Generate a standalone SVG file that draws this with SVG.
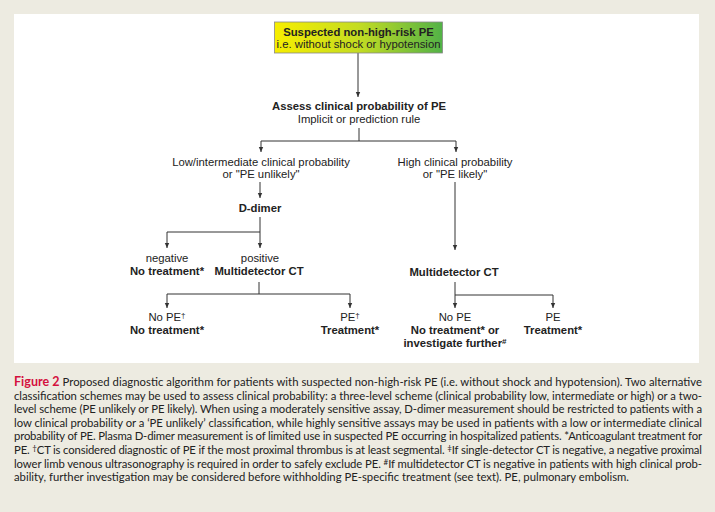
<svg xmlns="http://www.w3.org/2000/svg" width="715" height="512" viewBox="0 0 715 512">
<defs>
<linearGradient id="g" x1="0" y1="0" x2="1" y2="0">
<stop offset="0" stop-color="#f7ee00"/>
<stop offset="0.5" stop-color="#c4dc22"/>
<stop offset="1" stop-color="#52b247"/>
</linearGradient>
<marker id="a" markerWidth="6" markerHeight="6" refX="5" refY="3" orient="auto" markerUnits="userSpaceOnUse">
<path d="M0,0.8 L5,3 L0,5.2 Z" fill="#333"/>
</marker>
<style>
.t{font-family:"Liberation Sans",Arial,sans-serif;font-size:11.3px;fill:#222;text-anchor:middle}
.b{font-weight:bold}
.sup{font-size:8px}
.c{stroke:#333;stroke-width:1;fill:none}
.cap{font-family:Lato,"Open Sans",sans-serif;font-size:11.3px;fill:#222}
.fig{fill:#d4113e;font-weight:bold;font-size:12.5px}
</style>
</defs>
<rect x="0" y="0" width="715" height="512" fill="#edebe1"/>
<rect x="14" y="14" width="685" height="349" fill="#ffffff"/>

<g id="connectors">
<path class="c" d="M358,53 V97" marker-end="url(#a)"/>
<path class="c" d="M359,128 V141 M261,141 H456"/>
<path class="c" d="M261,141 V152" marker-end="url(#a)"/>
<path class="c" d="M456,141 V152" marker-end="url(#a)"/>
<path class="c" d="M260,182 V198" marker-end="url(#a)"/>
<path class="c" d="M260,217 V248" marker-end="url(#a)"/>
<path class="c" d="M167,232 H260"/>
<path class="c" d="M167,232 V248" marker-end="url(#a)"/>
<path class="c" d="M259,282 V294 M167,294 H350"/>
<path class="c" d="M167,294 V308" marker-end="url(#a)"/>
<path class="c" d="M350,294 V308" marker-end="url(#a)"/>
<path class="c" d="M455,182 V250" marker-end="url(#a)"/>
<path class="c" d="M455,282 V308" marker-end="url(#a)"/>
<path class="c" d="M455,295 H553"/>
<path class="c" d="M553,295 V308" marker-end="url(#a)"/>
</g>

<g id="start">
<rect x="274.5" y="22" width="168" height="31" fill="url(#g)" stroke="#888" stroke-width="0.8"/>
<text class="t b" x="358.5" y="35.5">Suspected non-high-risk PE</text>
<text class="t" x="358.5" y="48">i.e. without shock or hypotension</text>
</g>

<g id="assess">
<text class="t b" x="359" y="110">Assess clinical probability of PE</text>
<text class="t" x="359" y="123">Implicit or prediction rule</text>
</g>

<g id="low">
<text class="t" x="261" y="166">Low/intermediate clinical probability</text>
<text class="t" x="261" y="178">or "PE unlikely"</text>
</g>

<g id="high">
<text class="t" x="455" y="166">High clinical probability</text>
<text class="t" x="455" y="178">or "PE likely"</text>
</g>

<g id="ddimer">
<text class="t b" x="260" y="212">D-dimer</text>
</g>

<g id="negative">
<text class="t" x="167" y="262">negative</text>
<text class="t b" x="167" y="275">No treatment*</text>
</g>

<g id="positive">
<text class="t" x="260" y="262">positive</text>
<text class="t b" x="259" y="275">Multidetector CT</text>
</g>

<g id="ct-high">
<text class="t b" x="454" y="275.5">Multidetector CT</text>
</g>

<g id="nope-left">
<text class="t" x="167" y="321">No PE<tspan class="sup" dy="-3">†</tspan></text>
<text class="t b" x="167" y="334">No treatment*</text>
</g>

<g id="pe-left">
<text class="t" x="350" y="321">PE<tspan class="sup" dy="-3">†</tspan></text>
<text class="t b" x="350" y="334">Treatment*</text>
</g>

<g id="nope-right">
<text class="t" x="455" y="321">No PE</text>
<text class="t b" x="455" y="334">No treatment* or</text>
<text class="t b" x="455" y="347">investigate further<tspan class="sup" dy="-3">#</tspan></text>
</g>

<g id="pe-right">
<text class="t" x="553" y="321">PE</text>
<text class="t b" x="553" y="334">Treatment*</text>
</g>

<g id="caption">
<text class="cap" x="14" y="386" textLength="688" lengthAdjust="spacing"><tspan class="fig">Figure 2</tspan>  Proposed diagnostic algorithm for patients with suspected non-high-risk PE (i.e. without shock and hypotension). Two alternative</text>
<text class="cap" x="14" y="399.6" textLength="688" lengthAdjust="spacing">classification schemes may be used to assess clinical probability: a three-level scheme (clinical probability low, intermediate or high) or a two-</text>
<text class="cap" x="14" y="413.2" textLength="688" lengthAdjust="spacing">level scheme (PE unlikely or PE likely). When using a moderately sensitive assay, D-dimer measurement should be restricted to patients with a</text>
<text class="cap" x="14" y="426.8" textLength="688" lengthAdjust="spacing">low clinical probability or a ‘PE unlikely’ classification, while highly sensitive assays may be used in patients with a low or intermediate clinical</text>
<text class="cap" x="14" y="440.4" textLength="688" lengthAdjust="spacing">probability of PE. Plasma D-dimer measurement is of limited use in suspected PE occurring in hospitalized patients. *Anticoagulant treatment for</text>
<text class="cap" x="14" y="454" textLength="688" lengthAdjust="spacing">PE. <tspan class="sup" dy="-3">†</tspan><tspan dy="3">CT is considered diagnostic of PE if the most proximal thrombus is at least segmental. </tspan><tspan class="sup" dy="-3">‡</tspan><tspan dy="3">If single-detector CT is negative, a negative proximal</tspan></text>
<text class="cap" x="14" y="467.6" textLength="688" lengthAdjust="spacing">lower limb venous ultrasonography is required in order to safely exclude PE. <tspan class="sup" dy="-3">#</tspan><tspan dy="3">If multidetector CT is negative in patients with high clinical prob-</tspan></text>
<text class="cap" x="14" y="481.2">ability, further investigation may be considered before withholding PE-specific treatment (see text). PE, pulmonary embolism.</text>
</g>
</svg>
